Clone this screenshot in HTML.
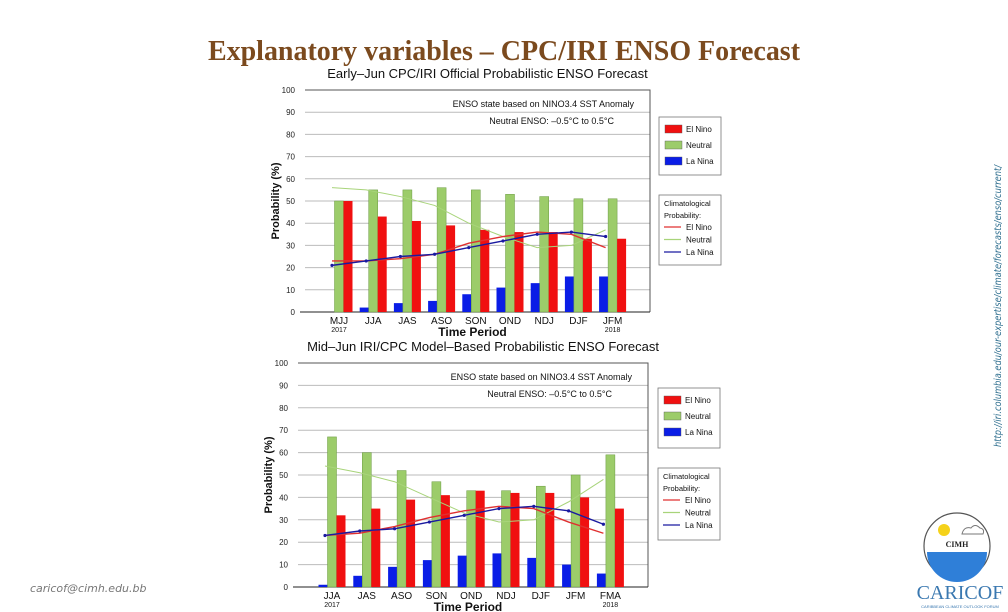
<!DOCTYPE html>
<html><head><meta charset="utf-8">
<style>
html,body{margin:0;padding:0;background:#fff;}
svg{display:block;font-family:"Liberation Sans",sans-serif;}
</style></head>
<body>
<svg id="s" width="1008" height="612" viewBox="0 0 1008 612" xmlns="http://www.w3.org/2000/svg">
<text x="504" y="60" text-anchor="middle" font-family="Liberation Serif, serif" font-weight="bold" font-size="28" fill="#7b4a1e" textLength="592" lengthAdjust="spacingAndGlyphs">Explanatory variables – CPC/IRI ENSO Forecast</text>
<text transform="translate(1001,447) rotate(-90)" font-family="DejaVu Sans, sans-serif" font-style="italic" font-size="10" fill="#2f6f8f" textLength="282" lengthAdjust="spacingAndGlyphs">http://iri.columbia.edu/our-expertise/climate/forecasts/enso/current/</text>
<text x="30" y="592" font-family="DejaVu Sans, sans-serif" font-style="italic" font-size="11" fill="#777">caricof@cimh.edu.bb</text>
<g>
<circle cx="957" cy="546" r="33" fill="#fff" stroke="#555" stroke-width="1.2"/>
<circle cx="944" cy="530" r="6" fill="#f5d21a"/>
<path d="M962 534 q2-8 9-6 q4-5 9 0 q5 1 3 6 z" fill="#fff" stroke="#777"/>
<text x="957" y="547" text-anchor="middle" font-family="Liberation Serif, serif" font-size="8" font-weight="bold" fill="#222">CIMH</text>
<path d="M927 552 h60 a30 30 0 0 1 -60 0 z" fill="#2f7fd8"/>
</g>
<text x="960" y="599" text-anchor="middle" font-family="Liberation Serif, serif" font-size="20" fill="#3a78b0">CARICOF</text>
<text x="960" y="608" text-anchor="middle" font-size="4" fill="#3a78b0">CARIBBEAN CLIMATE OUTLOOK FORUM</text>
<g id="c1"></g><g id="c2"></g>
</svg>
<script>
const cats1 = ["MJJ","JJA","JAS","ASO","SON","OND","NDJ","DJF","JFM"];
const years1 = ["2017","","","","","","","","2018"];
const elnino1 = [50,43,41,39,37,36,36,33,33];
const neutral1 = [50,55,55,56,55,53,52,51,51];
const lanina1 = [0,2,4,5,8,11,13,16,16];
const climEl1 = [23,23,24,26,31,34,36,35,29];
const climNe1 = [56,55,52,48,40,34,29,30,37];
const climLa1 = [21,23,25,26,29,32,35,36,34];

const cats2 = ["JJA","JAS","ASO","SON","OND","NDJ","DJF","JFM","FMA"];
const years2 = ["2017","","","","","","","","2018"];
const elnino2 = [32,35,39,41,43,42,42,40,35];
const neutral2 = [67,60,52,47,43,43,45,50,59];
const lanina2 = [1,5,9,12,14,15,13,10,6];
const climEl2 = [23,24,27,31,34,36,35,29,24];
const climNe2 = [54,51,47,40,33,29,30,38,48];
const climLa2 = [23,25,26,29,32,35,36,34,28];

const yTicks = [0,10,20,30,40,50,60,70,80,90,100];
const NS="http://www.w3.org/2000/svg";
function mk(p,tag,a,txt){const e=document.createElementNS(NS,tag);for(const k in a)e.setAttribute(k,a[k]);if(txt!==undefined)e.textContent=txt;p.appendChild(e);return e;}

function chart(g,o){
  const L=o.left,R=o.right,T=o.top,B=o.bottom;
  const y=v=>B-(B-T)*v/100;
  const x=i=>o.x0+i*o.dx;
  let t=mk(g,'text',{x:(L+R)/2+10,y:T-12,'text-anchor':'middle','font-size':13,fill:'#111'},o.title);
  
  
  yTicks.forEach(v=>{
    if(v>0&&v<100){let l=mk(g,'line',{x1:L,x2:R,y1:y(v),y2:y(v),stroke:'#bbb','stroke-width':1});
    
    }
    let tx=mk(g,'text',{x:L-10,y:y(v)+3,'text-anchor':'end','font-size':8,fill:'#222'},v);
    
    
  });
  let fr=mk(g,'path',{d:`M${L} ${T}H${R}V${B}`,fill:'none',stroke:'#555','stroke-width':1});
  
  
  let ax=mk(g,'line',{x1:L-5,x2:R,y1:B,y2:B,stroke:'#222','stroke-width':1});
  
  
  const bw=9;
  o.cats.forEach((c,i)=>{
    const cx=x(i);
    [[o.la,-9,'#0a1de6','bar-la-nina'],[o.ne,0,'#9ccc6a','bar-neutral'],[o.el,9,'#f01010','bar-el-nino']].forEach(([arr,off,col,nm])=>{
      const v=arr[i];if(v<=0)return;
      let r=mk(g,'rect',{x:cx+off-bw/2,y:y(v),width:bw,height:B-y(v),fill:col,stroke:nm==='bar-neutral'?'#6a9a40':'none','stroke-width':0.5});
      
      
    });
    let lb=mk(g,'text',{x:cx,y:B+12,'text-anchor':'middle','font-size':10,fill:'#111'},c);
    
    
    if(o.years[i]){let yl=mk(g,'text',{x:cx,y:B+20,'text-anchor':'middle','font-size':7,fill:'#111'},o.years[i]);
    
    }
  });
  [[o.cNe,'#a8d47a'],[o.cEl,'#e03030'],[o.cLa,'#1a1aa0']].forEach(([arr,col],k)=>{
    const d=arr.map((v,i)=>(i?'L':'M')+(x(i)-7)+' '+y(v)).join('');
    let p=mk(g,'path',{d:d,fill:'none',stroke:col,'stroke-width':k===0?1:1.4});
    
    
    if(k===2)arr.forEach((v,i)=>{let c=mk(g,'circle',{cx:x(i)-7,cy:y(v),r:1.6,fill:col});
      
      });
  });
  let xt=mk(g,'text',{x:(L+R)/2-5,y:B+24,'text-anchor':'middle','font-size':12,'font-weight':'bold',fill:'#111'},'Time Period');
  
  
  let yt=mk(g,'text',{transform:`translate(${L-26},${(T+B)/2}) rotate(-90)`,'text-anchor':'middle','font-size':11,'font-weight':'bold',fill:'#111'},'Probability (%)');
  
  
  let a1=mk(g,'text',{x:R-16,y:T+17,'text-anchor':'end','font-size':9,fill:'#111'},o.note1);
  
  
  let a2=mk(g,'text',{x:R-36,y:T+34,'text-anchor':'end','font-size':9,fill:'#111'},'Neutral ENSO: –0.5°C to 0.5°C');
  
  
  const lx=o.lx;
  let b1=mk(g,'rect',{x:lx,y:o.l1y,width:62,height:o.l1h,fill:'#fff',stroke:'#777','stroke-width':0.8});
  
  
  [['El Nino','#f01010'],['Neutral','#9ccc6a'],['La Nina','#0a1de6']].forEach(([n,c],i)=>{
    const yy=o.l1y+14+i*16;
    let r=mk(g,'rect',{x:lx+6,y:yy-6,width:17,height:8,fill:c,stroke:'#555','stroke-width':0.4});
    
    
    let tx=mk(g,'text',{x:lx+27,y:yy+1,'font-size':8,fill:'#111'},n);
    
    
  });
  let b2=mk(g,'rect',{x:lx,y:o.l2y,width:62,height:o.l2h,fill:'#fff',stroke:'#777','stroke-width':0.8});
  
  
  let h1=mk(g,'text',{x:lx+5,y:o.l2y+11,'font-size':7.5,fill:'#111'},'Climatological');
  
  
  let h2=mk(g,'text',{x:lx+5,y:o.l2y+23,'font-size':7.5,fill:'#111'},'Probability:');
  
  
  [['El Nino','#e03030'],['Neutral','#a8d47a'],['La Nina','#1a1aa0']].forEach(([n,c],i)=>{
    const yy=o.l2y+35+i*12.5;
    let l=mk(g,'line',{x1:lx+5,x2:lx+22,y1:yy-3,y2:yy-3,stroke:c,'stroke-width':1.2});
    
    
    let tx=mk(g,'text',{x:lx+27,y:yy,'font-size':8,fill:'#111'},n);
    
    
  });
}
chart(document.getElementById('c1'),{title:'Early–Jun CPC/IRI Official Probabilistic ENSO Forecast',left:305,right:650,top:90,bottom:312,x0:339,dx:34.2,cats:cats1,years:years1,el:elnino1,ne:neutral1,la:lanina1,cEl:climEl1,cNe:climNe1,cLa:climLa1,note1:'ENSO state based on NINO3.4 SST Anomaly',lx:659,l1y:117,l1h:58,l2y:195,l2h:70});
chart(document.getElementById('c2'),{title:'Mid–Jun IRI/CPC Model–Based Probabilistic ENSO Forecast',left:298,right:648,top:363,bottom:587,x0:332,dx:34.8,cats:cats2,years:years2,el:elnino2,ne:neutral2,la:lanina2,cEl:climEl2,cNe:climNe2,cLa:climLa2,note1:'ENSO state based on NINO3.4 SST Anomaly',lx:658,l1y:388,l1h:60,l2y:468,l2h:72});
</script>
</body></html>
